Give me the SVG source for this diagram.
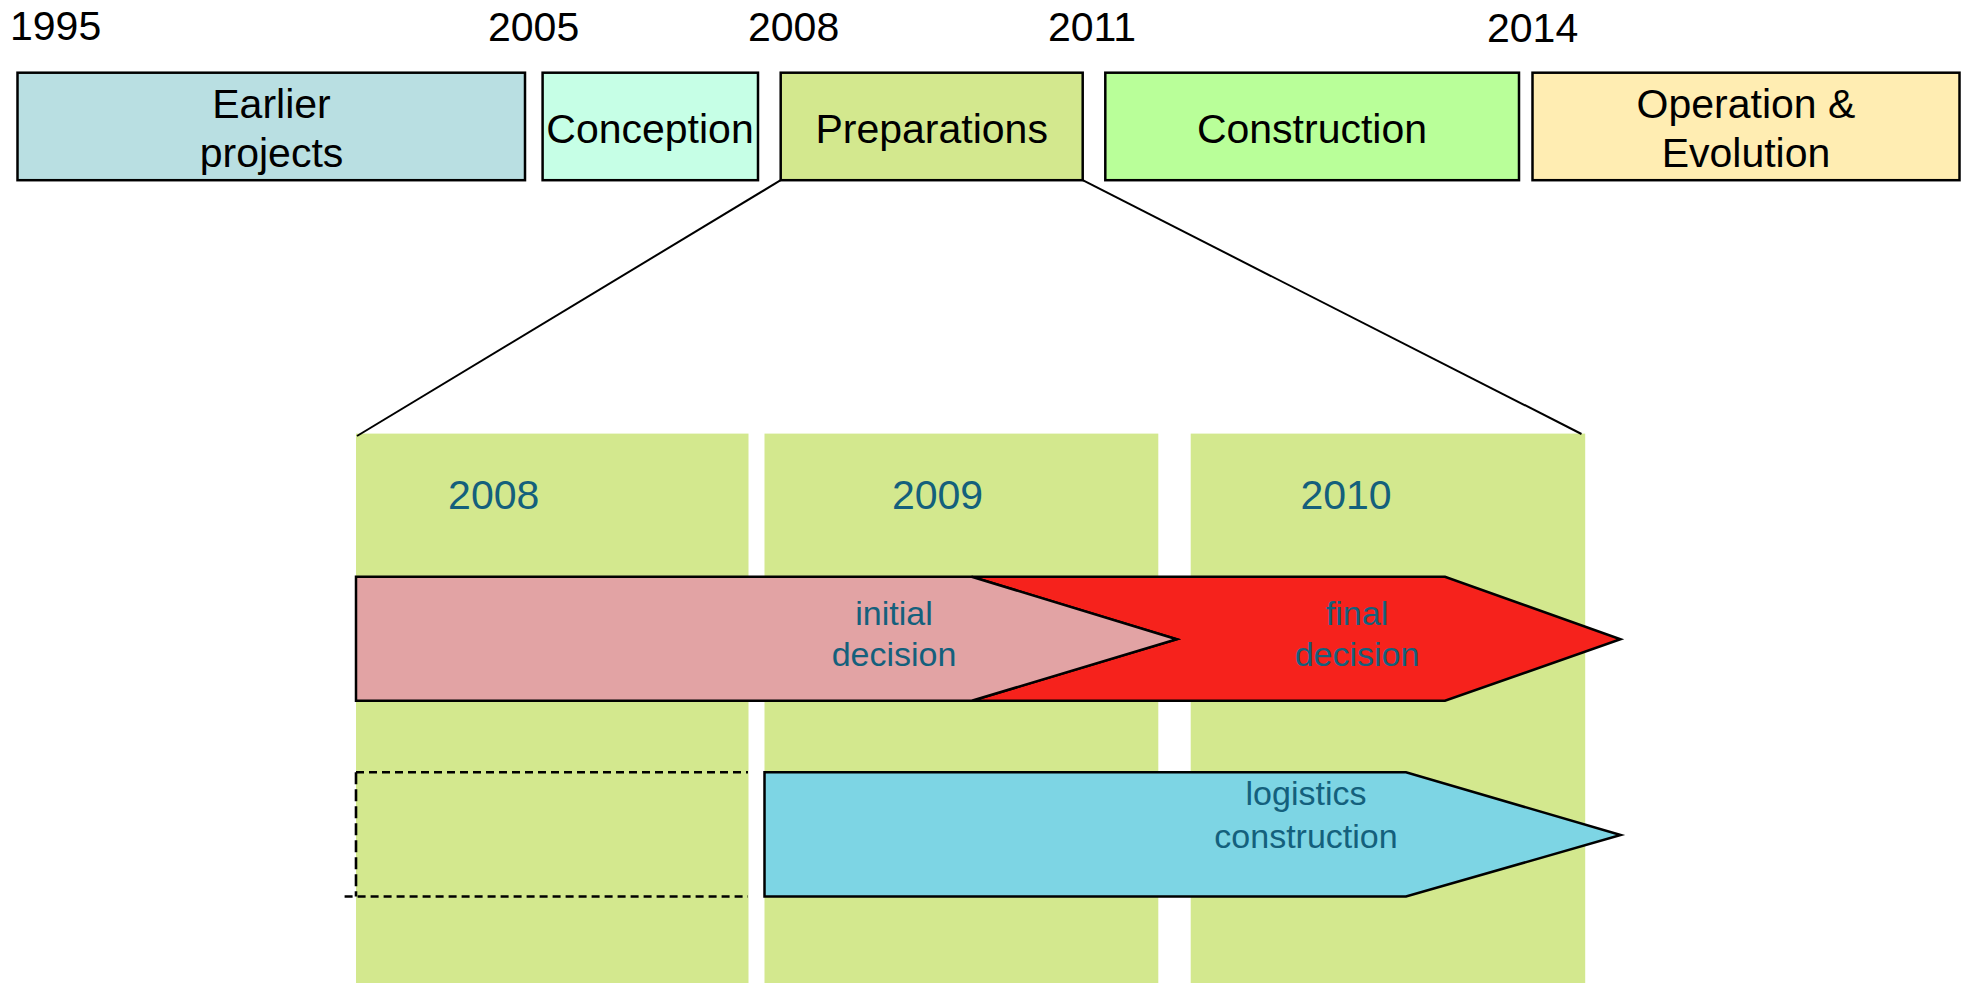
<svg xmlns="http://www.w3.org/2000/svg" width="1965" height="983" viewBox="0 0 1965 983">
<style>
.box{stroke:#000;stroke-width:2.5}
.t{font-family:"Liberation Sans",Arial,Helvetica,sans-serif;font-size:41px;fill:#000;text-anchor:middle}
.yr{font-family:"Liberation Sans",Arial,Helvetica,sans-serif;font-size:41px;fill:#000}
.iy{font-family:"Liberation Sans",Arial,Helvetica,sans-serif;font-size:41px;fill:#14607c;text-anchor:middle}
.al{font-family:"Liberation Sans",Arial,Helvetica,sans-serif;font-size:34px;fill:#14607c;text-anchor:middle}
.arr{stroke:#000;stroke-width:2.5;stroke-linejoin:miter}
.col{fill:#D3E88E}
.dash{stroke:#000;stroke-width:2.6;stroke-dasharray:8 5;fill:none}
.conn{stroke:#000;stroke-width:2;fill:none}
</style>
<rect width="1965" height="983" fill="#fff"/>
<g id="years">
<text class="yr" x="10" y="40">1995</text>
<text class="yr" x="488" y="41">2005</text>
<text class="yr" x="748" y="41">2008</text>
<text class="yr" x="1048" y="41">2011</text>
<text class="yr" x="1487" y="42">2014</text>
</g>
<g id="earlier">
<rect class="box" x="17.5" y="72.7" width="507.5" height="107.5" fill="#B9DFE2"/>
<text class="t" x="271.5" y="118">Earlier</text>
<text class="t" x="271.5" y="166.5">projects</text>
</g>
<g id="conception">
<rect class="box" x="542.6" y="72.7" width="215.4" height="107.5" fill="#C6FFE6"/>
<text class="t" x="650" y="142.5">Conception</text>
</g>
<g id="preparations">
<rect class="box" x="780.7" y="72.7" width="302" height="107.5" fill="#D3E88E"/>
<text class="t" x="931.7" y="142.5">Preparations</text>
</g>
<g id="construction">
<rect class="box" x="1105.3" y="72.7" width="413.7" height="107.5" fill="#B9FF99"/>
<text class="t" x="1312" y="142.5">Construction</text>
</g>
<g id="operation">
<rect class="box" x="1532.5" y="72.7" width="427" height="107.5" fill="#FFEDB2"/>
<text class="t" x="1746" y="118">Operation &amp;</text>
<text class="t" x="1746" y="166.5">Evolution</text>
</g>
<g id="columns">
<rect class="col" x="356" y="433.6" width="392.5" height="549.4"/>
<rect class="col" x="764.5" y="433.6" width="393.8" height="549.4"/>
<rect class="col" x="1190.7" y="433.6" width="394.5" height="549.4"/>
<text class="iy" x="493.7" y="509">2008</text>
<text class="iy" x="937.5" y="509">2009</text>
<text class="iy" x="1346" y="509">2010</text>
</g>
<g id="connectors">
<line class="conn" x1="780.7" y1="180.2" x2="357" y2="436"/>
<line class="conn" x1="1082.7" y1="180.2" x2="1581.5" y2="434"/>
</g>
<g id="final-decision">
<polygon class="arr" points="971.7,576.7 1445,576.7 1620.5,639.3 1445,700.7 971.7,700.7 1176.7,639.3" fill="#F6221C"/>
<text class="al" x="1357" y="625">final</text>
<text class="al" x="1357" y="665.7">decision</text>
</g>
<g id="initial-decision">
<polygon class="arr" points="356,576.7 971.7,576.7 1176.7,639.3 971.7,700.7 356,700.7" fill="#E2A3A4"/>
<text class="al" x="894" y="625">initial</text>
<text class="al" x="894" y="665.7">decision</text>
</g>
<g id="logistics-placeholder">
<line class="dash" x1="356" y1="772.3" x2="748" y2="772.3"/>
<line class="dash" x1="344.6" y1="896.5" x2="748" y2="896.5"/>
<line class="dash" x1="356" y1="772.3" x2="356" y2="896.5" style="stroke-dasharray:12 5"/>
</g>
<g id="logistics-construction">
<polygon class="arr" points="764.5,772.3 1406,772.3 1620.7,835 1406,896.5 764.5,896.5" fill="#7DD5E4"/>
<text class="al" x="1306" y="805">logistics</text>
<text class="al" x="1306" y="848.3">construction</text>
</g>
</svg>
